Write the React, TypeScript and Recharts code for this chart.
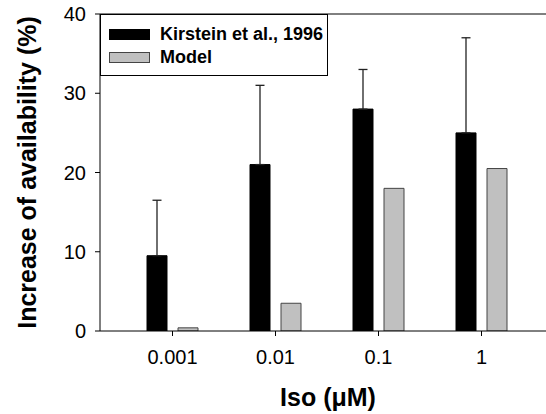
import React from 'react';
import { BarChart, Bar, XAxis, YAxis, ErrorBar, Legend, ReferenceLine, Label } from 'recharts';

const categories = ['0.001', '0.01', '0.1', '1'];
const kirsteinValues = [9.5, 21, 28, 25];
const kirsteinErrors = [7, 10, 5, 12]; // upper error only
const modelValues = [0.4, 3.5, 18, 20.5];
const yTicks = [0, 10, 20, 30, 40];

const data = categories.map((iso, i) => ({
  iso,
  kirstein: kirsteinValues[i],
  kirsteinErr: [0, kirsteinErrors[i]],
  model: modelValues[i],
}));

const FONT = '"Liberation Sans", Arial, sans-serif';

const LegendBox = (props: any) => {
  const { payload = [] } = props;
  return (
    <div
      style={{
        position: 'relative',
        boxSizing: 'border-box',
        width: 228,
        height: 62,
        border: '1px solid #000',
        background: '#fff',
        fontFamily: FONT,
      }}
    >
      {payload.map((entry: any, i: number) => (
        <div
          key={entry.value}
          style={{ position: 'absolute', left: 8, top: 13 + i * 23, height: 12, display: 'flex', alignItems: 'center' }}
        >
          <span
            style={{
              display: 'inline-block',
              boxSizing: 'border-box',
              width: 41,
              height: 11,
              background: entry.color,
              border: `1px solid ${i === 0 ? '#000' : '#444'}`,
            }}
          />
          <span style={{ marginLeft: 10, fontSize: 18, fontWeight: 'bold', color: '#000', whiteSpace: 'nowrap' }}>
            {entry.value}
          </span>
        </div>
      ))}
    </div>
  );
};

export default function App() {
  return (
    <div style={{ position: 'absolute', left: 0, top: 0, width: 546, height: 414, background: '#fff' }}>
      <BarChart
        width={546}
        height={414}
        data={data}
        margin={{ top: 14, right: 0, left: 0, bottom: 0 }}
        barSize={20}
        barGap={11}
      >
        <XAxis
          dataKey="iso"
          height={83}
          padding={{ left: 21, right: 13 }}
          axisLine={{ stroke: '#000' }}
          tickLine={{ stroke: '#000' }}
          tickSize={5}
          tickMargin={14}
          tick={{ fill: '#000', fontSize: 20, fontFamily: FONT }}
        >
          <Label
            value="Iso (μM)"
            position="center"
            dx={5}
            dy={25}
            style={{ fontSize: 25, fontWeight: 'bold', fill: '#000', fontFamily: FONT }}
          />
        </XAxis>
        <YAxis
          width={100}
          domain={[0, 40]}
          ticks={yTicks}
          allowDataOverflow
          axisLine={{ stroke: '#000' }}
          tickLine={{ stroke: '#000' }}
          tickSize={5}
          tickMargin={9}
          tick={{ fill: '#000', fontSize: 20, fontFamily: FONT }}
        >
          <Label
            value="Increase of availability (%)"
            position="center"
            angle={-90}
            dx={-23}
            style={{ fontSize: 25, fontWeight: 'bold', fill: '#000', fontFamily: FONT }}
          />
        </YAxis>
        <ReferenceLine y={40} stroke="#000" />
        <Legend
          layout="vertical"
          align="center"
          verticalAlign="middle"
          content={<LegendBox />}
          wrapperStyle={{ left: 100, top: 14, width: 228, height: 62 }}
        />
        <Bar dataKey="kirstein" name="Kirstein et al., 1996" fill="#000" stroke="#000" isAnimationActive={false}>
          <ErrorBar dataKey="kirsteinErr" width={4.5} stroke="#222" strokeWidth={1.3} direction="y" />
        </Bar>
        <Bar dataKey="model" name="Model" fill="#c0c0c0" stroke="#444" isAnimationActive={false} />
      </BarChart>
    </div>
  );
}
